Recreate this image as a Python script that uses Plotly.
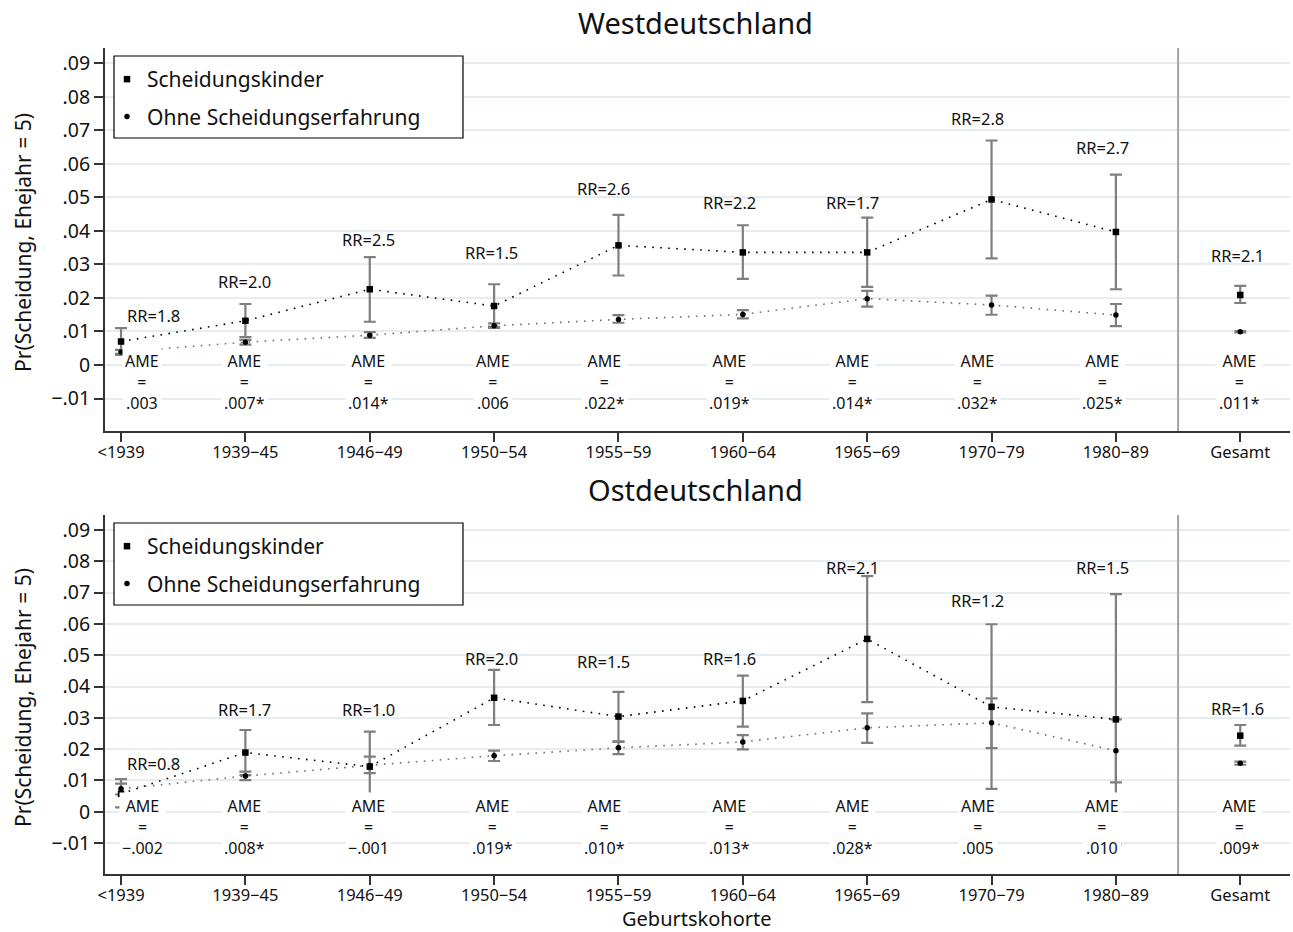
import plotly.graph_objects as go

# ---------------- data ----------------
categories = ["<1939", "1939\u221245", "1946\u221249", "1950\u221254", "1955\u221259",
              "1960\u221264", "1965\u221269", "1970\u221279", "1980\u221289", "Gesamt"]

# Westdeutschland
w_sk = [0.0070, 0.0132, 0.0226, 0.0176, 0.0357, 0.0336, 0.0336, 0.0494, 0.0397, 0.0209]
w_sk_lo = [0.0030, 0.0083, 0.0129, 0.0113, 0.0267, 0.0257, 0.0233, 0.0318, 0.0226, 0.0185]
w_sk_hi = [0.0110, 0.0182, 0.0322, 0.0241, 0.0448, 0.0417, 0.0440, 0.0670, 0.0568, 0.0236]
w_oh = [0.0039, 0.0068, 0.0089, 0.0117, 0.0136, 0.0151, 0.0198, 0.0179, 0.0149, 0.0099]
w_oh_lo = [0.0033, 0.0061, 0.0081, 0.0111, 0.0126, 0.0139, 0.0174, 0.0150, 0.0116, 0.0097]
w_oh_hi = [0.0045, 0.0075, 0.0098, 0.0124, 0.0149, 0.0164, 0.0221, 0.0207, 0.0182, 0.0101]
w_rr = ["1.8", "2.0", "2.5", "1.5", "2.6", "2.2", "1.7", "2.8", "2.7", "2.1"]
w_ame = [".003", ".007*", ".014*", ".006", ".022*", ".019*", ".014*", ".032*", ".025*", ".011*"]

# Ostdeutschland
e_sk = [0.0057, 0.0189, 0.0144, 0.0364, 0.0304, 0.0354, 0.0552, 0.0335, 0.0295, 0.0243]
e_sk_lo = [0.0014, 0.0117, 0.0032, 0.0277, 0.0224, 0.0272, 0.0350, 0.0073, -0.0105, 0.0211]
e_sk_hi = [0.0104, 0.0261, 0.0256, 0.0453, 0.0383, 0.0435, 0.0753, 0.0599, 0.0695, 0.0277]
e_oh = [0.0073, 0.0114, 0.0148, 0.0179, 0.0204, 0.0223, 0.0268, 0.0284, 0.0195, 0.0155]
e_oh_lo = [0.0055, 0.0101, 0.0123, 0.0162, 0.0184, 0.0199, 0.0220, 0.0203, 0.0094, 0.0150]
e_oh_hi = [0.0090, 0.0128, 0.0176, 0.0195, 0.0224, 0.0245, 0.0314, 0.0362, 0.0295, 0.0160]
e_rr = ["0.8", "1.7", "1.0", "2.0", "1.5", "1.6", "2.1", "1.2", "1.5", "1.6"]
e_ame = ["\u2212.002", ".008*", "\u2212.001", ".019*", ".010*", ".013*", ".028*", ".005", ".010", ".009*"]

ytick_vals = [-0.01, 0, 0.01, 0.02, 0.03, 0.04, 0.05, 0.06, 0.07, 0.08, 0.09]
ytick_text = ["\u2212.01", "0", ".01", ".02", ".03", ".04", ".05", ".06", ".07", ".08", ".09"]

series_names = ["Scheidungskinder", "Ohne Scheidungserfahrung"]
panel_titles = ["Westdeutschland", "Ostdeutschland"]
y_title = "Pr(Scheidung, Ehejahr = 5)"
x_title = "Geburtskohorte"

# ---------------- layout helpers (positions, not data) ----------------
W, H = 1293, 932
FONT = "Noto Sans"
rr_y_top = [0.0147, 0.0248, 0.0375, 0.0337, 0.0528, 0.0486, 0.0486, 0.0737, 0.0648, 0.0326]
rr_y_bot = [0.0155, 0.0328, 0.0328, 0.0488, 0.0479, 0.0490, 0.0781, 0.0676, 0.0781, 0.0330]
rr_dx = [0.26, -0.01, -0.01, -0.02, -0.12, -0.11, -0.12, -0.11, -0.11, -0.02]
ame_dx = [0.17, -0.01, -0.01, -0.01, -0.11, -0.11, -0.12, -0.11, -0.11, -0.01]
ame_mid_y = [-0.0051, -0.0048]


def fx(p):
    return p / W


def fy(p):
    return 1 - p / H


fig = go.Figure()

panels = [
    dict(xa="x", ya="y", leg="legend", sk=w_sk, sklo=w_sk_lo, skhi=w_sk_hi,
         oh=w_oh, ohlo=w_oh_lo, ohhi=w_oh_hi, rr=w_rr, ame=w_ame, rry=rr_y_top, amey=ame_mid_y[0]),
    dict(xa="x2", ya="y2", leg="legend2", sk=e_sk, sklo=e_sk_lo, skhi=e_sk_hi,
         oh=e_oh, ohlo=e_oh_lo, ohhi=e_oh_hi, rr=e_rr, ame=e_ame, rry=rr_y_bot, amey=ame_mid_y[1]),
]

xs = list(range(len(categories)))
n_conn = len(categories) - 1  # Gesamt not connected

for p in panels:
    # error bars (capped spikes)
    for yv, lo, hi in [(p["sk"], p["sklo"], p["skhi"]), (p["oh"], p["ohlo"], p["ohhi"])]:
        fig.add_trace(go.Scatter(
            x=xs, y=yv, mode="markers", xaxis=p["xa"], yaxis=p["ya"],
            marker=dict(size=1, color="rgba(0,0,0,0)"),
            error_y=dict(type="data", symmetric=False,
                         array=[h - v for h, v in zip(hi, yv)],
                         arrayminus=[v - l for v, l in zip(yv, lo)],
                         color="#7f7f7f", thickness=2.2, width=6),
            showlegend=False, hoverinfo="skip"))
    # dotted connecting lines
    fig.add_trace(go.Scatter(
        x=xs[:n_conn], y=p["sk"][:n_conn], mode="lines", xaxis=p["xa"], yaxis=p["ya"],
        line=dict(color="#000000", width=1.6, dash="1.6px,6.4px"),
        showlegend=False, hoverinfo="skip"))
    fig.add_trace(go.Scatter(
        x=xs[:n_conn], y=p["oh"][:n_conn], mode="lines", xaxis=p["xa"], yaxis=p["ya"],
        line=dict(color="#6e6e6e", width=1.6, dash="1.6px,6.4px"),
        showlegend=False, hoverinfo="skip"))
    # markers
    fig.add_trace(go.Scatter(
        x=xs, y=p["sk"], mode="markers", xaxis=p["xa"], yaxis=p["ya"],
        marker=dict(symbol="square", size=6.5, color="#000000"),
        name=series_names[0], legend=p["leg"], legendgroup=p["leg"] + "a"))
    fig.add_trace(go.Scatter(
        x=xs, y=p["oh"], mode="markers", xaxis=p["xa"], yaxis=p["ya"],
        marker=dict(symbol="circle", size=5.5, color="#000000"),
        name=series_names[1], legend=p["leg"], legendgroup=p["leg"] + "b"))

annotations = []
txt_font = dict(family=FONT, size=16.5, color="#111111")
for p in panels:
    for i in xs:
        annotations.append(dict(
            x=i + rr_dx[i], y=p["rry"][i], xref=p["xa"], yref=p["ya"],
            text="RR=" + p["rr"][i], showarrow=False, font=txt_font,
            xanchor="center", yanchor="middle"))
        annotations.append(dict(
            x=i + ame_dx[i], y=p["amey"], xref=p["xa"], yref=p["ya"],
            text="AME<br>=<br>" + p["ame"][i], showarrow=False,
            font=dict(family=FONT, size=16, color="#111111"),
            bgcolor="white", borderpad=2,
            xanchor="center", yanchor="middle"))

# titles
annotations.append(dict(x=fx(695), y=fy(22), xref="paper", yref="paper", text=panel_titles[0],
                        showarrow=False, font=dict(family=FONT, size=29, color="#111111"),
                        xanchor="center", yanchor="middle"))
annotations.append(dict(x=fx(695), y=fy(489), xref="paper", yref="paper", text=panel_titles[1],
                        showarrow=False, font=dict(family=FONT, size=29, color="#111111"),
                        xanchor="center", yanchor="middle"))
annotations.append(dict(x=fx(697), y=fy(918.5), xref="paper", yref="paper", text=x_title,
                        showarrow=False, font=dict(family=FONT, size=20, color="#111111"),
                        xanchor="center", yanchor="middle"))
for yc in (243, 698):
    annotations.append(dict(x=fx(23), y=fy(yc), xref="paper", yref="paper", text=y_title,
                            textangle=-90, showarrow=False,
                            font=dict(family=FONT, size=21, color="#111111"),
                            xanchor="center", yanchor="middle"))

shapes = []
for xa, ya in (("x", "y domain"), ("x2", "y2 domain")):
    shapes.append(dict(type="line", xref=xa, yref=ya, x0=8.5, x1=8.5, y0=0, y1=1,
                       line=dict(color="#a3a3a3", width=2), layer="above"))
# legend boxes
for top, bot in ((56, 138), (523, 605)):
    shapes.append(dict(type="rect", xref="paper", yref="paper",
                       x0=fx(114), x1=fx(463), y0=fy(bot), y1=fy(top),
                       fillcolor="white", line=dict(color="#000000", width=1.2), layer="above"))

axis_common_x = dict(
    range=[-0.129, 9.4], tickmode="array", tickvals=xs, ticktext=categories,
    showline=True, linecolor="#333333", linewidth=2, ticks="outside", ticklen=9,
    tickwidth=1.5, tickcolor="#333333", showgrid=False, zeroline=False, automargin=False,
    ticklabelstandoff=-4,
    tickfont=dict(family=FONT, size=16.5, color="#111111"), fixedrange=True)
axis_common_y = dict(
    tickmode="array", tickvals=ytick_vals, ticktext=ytick_text,
    showline=True, linecolor="#333333", linewidth=2, ticks="outside", ticklen=9,
    tickwidth=1.5, tickcolor="#333333", showgrid=True, gridcolor="#e6edf1", gridwidth=1.6,
    zeroline=False, automargin=False,
    tickfont=dict(family=FONT, size=19.5, color="#111111"), fixedrange=True)

legend_common = dict(
    xanchor="left", yanchor="top", bgcolor="rgba(0,0,0,0)", borderwidth=0,
    font=dict(family=FONT, size=21, color="#111111"), traceorder="grouped",
    tracegroupgap=7)

fig.update_layout(
    width=W, height=H, margin=dict(l=0, r=0, t=0, b=0, autoexpand=False),
    paper_bgcolor="white", plot_bgcolor="white",
    font=dict(family=FONT, color="#111111"),
    xaxis=dict(domain=[fx(105), fx(1290)], anchor="y", **axis_common_x),
    yaxis=dict(domain=[fy(431), fy(48)], anchor="x", range=[-0.0197, 0.0946], **axis_common_y),
    xaxis2=dict(domain=[fx(105), fx(1290)], anchor="y2", **axis_common_x),
    yaxis2=dict(domain=[fy(874), fy(515)], anchor="x2", range=[-0.0199, 0.0948], **axis_common_y),
    legend=dict(x=fx(107), y=fy(59), **legend_common),
    legend2=dict(x=fx(107), y=fy(526), **legend_common),
    annotations=annotations, shapes=shapes, showlegend=True,
)

# remove the default 8px page margin so the figure sits at the window's top-left corner
fig.write_html("out.html", config={"displayModeBar": False},
               post_script="document.body.style.margin='0px';")
